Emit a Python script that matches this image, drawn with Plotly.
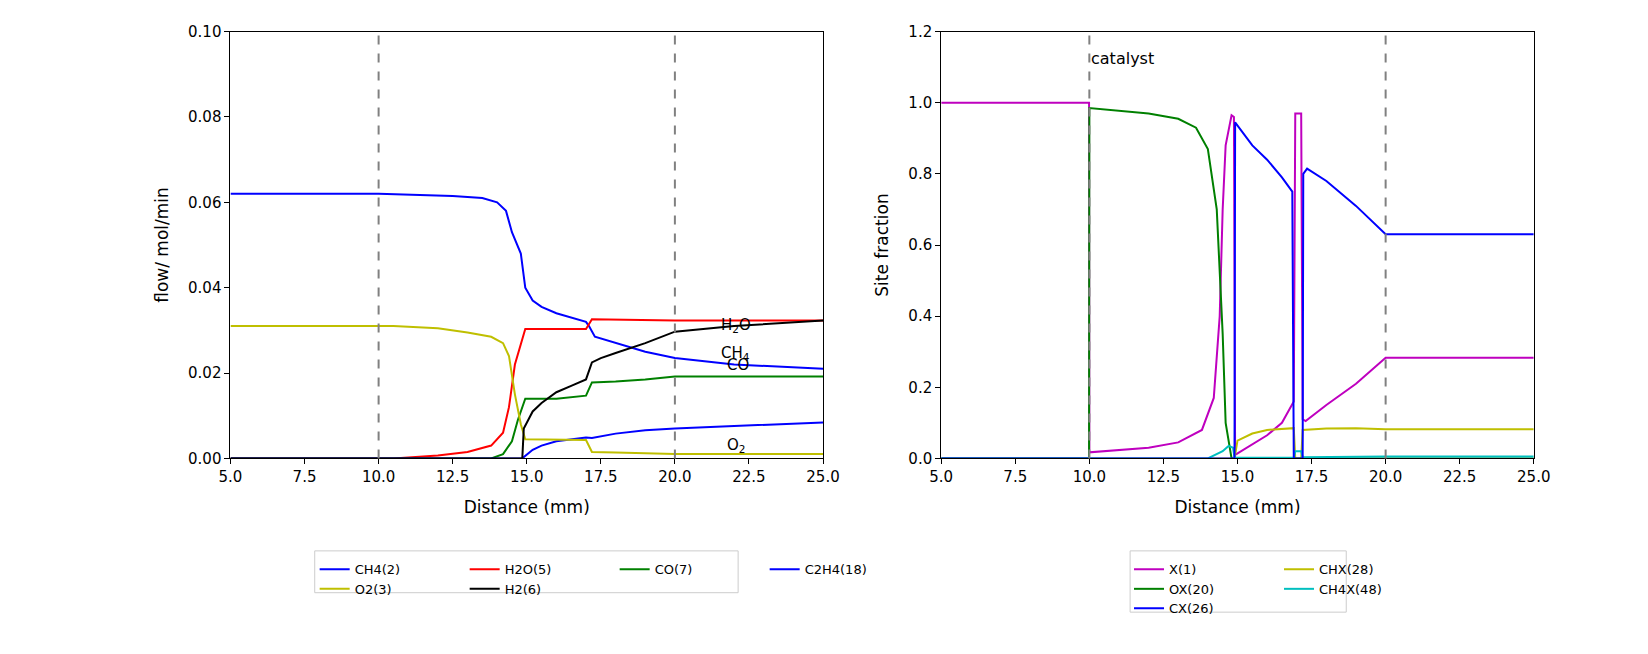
import plotly.graph_objects as go

# ---- left panel data (flow, mol/min) ----
ch4_x = [5, 10, 12.5, 13.5, 14, 14.3, 14.5, 14.8, 14.95, 15.2, 15.5, 16, 17, 17.1, 17.3, 18, 19, 20, 22, 25]
ch4_y = [0.062, 0.062, 0.0615, 0.061, 0.060, 0.058, 0.053, 0.048, 0.040, 0.037, 0.0355, 0.034, 0.032, 0.031, 0.0285, 0.027, 0.025, 0.0235, 0.022, 0.021]
o2_x = [5, 10.5, 12, 13, 13.8, 14.2, 14.4, 14.6, 14.8, 14.95, 17, 17.2, 18, 20, 25]
o2_y = [0.031, 0.031, 0.0305, 0.0295, 0.0285, 0.027, 0.024, 0.015, 0.008, 0.0045, 0.0043, 0.0015, 0.0014, 0.001, 0.001]
h2o_x = [5, 10.5, 12, 13, 13.8, 14.2, 14.4, 14.6, 14.95, 17, 17.2, 20, 25]
h2o_y = [0, 0, 0.0007, 0.0015, 0.003, 0.006, 0.012, 0.022, 0.0303, 0.0303, 0.0326, 0.0323, 0.0323]
h2_x = [5, 14.85, 14.9, 15.2, 15.5, 16, 16.5, 17, 17.2, 17.5, 18, 19, 20, 22, 25]
h2_y = [0, 0, 0.007, 0.011, 0.013, 0.0155, 0.017, 0.0185, 0.0225, 0.0235, 0.0247, 0.027, 0.0297, 0.031, 0.0323]
co_x = [5, 13.8, 14.2, 14.5, 14.7, 14.95, 16, 17, 17.2, 18, 19, 20, 25]
co_y = [0, 0, 0.001, 0.004, 0.009, 0.014, 0.014, 0.0147, 0.0178, 0.018, 0.0185, 0.0192, 0.0192]
c2h4_x = [5, 14.85, 15.2, 15.5, 16, 17, 17.2, 18, 19, 20, 22, 25]
c2h4_y = [0, 0, 0.002, 0.003, 0.004, 0.0049, 0.0048, 0.0058, 0.0066, 0.007, 0.0076, 0.0084]

# ---- right panel data (site fraction) ----
x1_x = [5, 9.99, 10, 12, 13, 13.8, 14.2, 14.4, 14.5, 14.6, 14.8, 14.88, 14.92, 15.5, 16, 16.5, 16.9, 16.95, 17.15, 17.2, 17.3, 18, 19, 20, 25]
x1_y = [1.0, 1.0, 0.017, 0.03, 0.045, 0.08, 0.17, 0.4, 0.7, 0.88, 0.965, 0.96, 0.01, 0.04, 0.065, 0.1, 0.16, 0.97, 0.97, 0.11, 0.105, 0.15, 0.21, 0.283, 0.283]
ox_x = [5, 9.99, 10, 11, 12, 13, 13.6, 14, 14.3, 14.5, 14.6, 14.8, 25]
ox_y = [0, 0, 0.985, 0.978, 0.97, 0.955, 0.93, 0.87, 0.7, 0.35, 0.1, 0.0, 0]
cx_x = [5, 14.9, 14.92, 15.5, 16, 16.5, 16.85, 16.9, 17.2, 17.22, 17.35, 18, 19, 20, 25]
cx_y = [0, 0, 0.945, 0.88, 0.84, 0.79, 0.75, 0.0, 0, 0.8, 0.815, 0.78, 0.71, 0.63, 0.63]
chx_x = [5, 14.9, 15.0, 15.5, 16, 16.9, 16.95, 17.15, 17.2, 18, 19, 20, 25]
chx_y = [0, 0, 0.05, 0.07, 0.08, 0.085, 0, 0, 0.08, 0.084, 0.085, 0.082, 0.082]
ch4x_x = [5, 14.0, 14.5, 14.7, 14.85, 14.9, 16.9, 16.95, 17.15, 17.2, 20, 25]
ch4x_y = [0, 0, 0.02, 0.035, 0.03, 0.002, 0.002, 0.02, 0.02, 0.003, 0.005, 0.005]

fig = go.Figure()
def tr(x, y, name, color, xa, ya, leg):
    fig.add_trace(go.Scatter(x=x, y=y, name=name, mode="lines", line=dict(width=2, color=color),
                             xaxis=xa, yaxis=ya, legend=leg))

tr(ch4_x, ch4_y, "CH4(2)", "#0000ff", "x", "y", "legend")
tr(h2o_x, h2o_y, "H2O(5)", "#ff0000", "x", "y", "legend")
tr(co_x, co_y, "CO(7)", "#008000", "x", "y", "legend")
tr(c2h4_x, c2h4_y, "C2H4(18)", "#0000ff", "x", "y", "legend")
tr(o2_x, o2_y, "O2(3)", "#bfbf00", "x", "y", "legend2")
tr(h2_x, h2_y, "H2(6)", "#000000", "x", "y", "legend2")

tr(x1_x, x1_y, "X(1)", "#bf00bf", "x2", "y2", "legend3")
tr(chx_x, chx_y, "CHX(28)", "#bfbf00", "x2", "y2", "legend3")
tr(ox_x, ox_y, "OX(20)", "#008000", "x2", "y2", "legend4")
tr(ch4x_x, ch4x_y, "CH4X(48)", "#00bfbf", "x2", "y2", "legend4")
tr(cx_x, cx_y, "CX(26)", "#0000ff", "x2", "y2", "legend5")

ax = dict(showgrid=False, zeroline=False, showline=True, mirror=True, linecolor="black",
          ticks="outside", tickcolor="black", tickfont=dict(size=15), title_font=dict(size=17))
def leg(x, row):
    return dict(orientation="h", x=x, xanchor="left", y=0.155 - row * 0.0306, yanchor="top",
                entrywidth=105, font=dict(size=13), bgcolor="rgba(0,0,0,0)", itemwidth=30)
fig.update_layout(
    width=1648, height=654, plot_bgcolor="white", paper_bgcolor="white",
    font=dict(family="DejaVu Sans", color="black"),
    margin=dict(l=0, r=0, t=0, b=0),
    xaxis=dict(ax, domain=[0.130, 0.496], range=[5, 25], dtick=2.5, tickformat=".1f", title_text="Distance (mm)"),
    yaxis=dict(ax, domain=[0.306, 0.977], range=[0, 0.1], dtick=0.02, tickformat=".2f", title_text="flow/ mol/min"),
    xaxis2=dict(ax, domain=[0.569, 0.935], range=[5, 25], dtick=2.5, tickformat=".1f", title_text="Distance (mm)", anchor="y2"),
    yaxis2=dict(ax, domain=[0.306, 0.977], range=[0, 1.2], dtick=0.2, tickformat=".1f", title_text="Site fraction", anchor="x2"),
    legend=leg(0.182, 0), legend2=leg(0.182, 1),
    legend3=leg(0.685, 0), legend4=leg(0.685, 1), legend5=leg(0.685, 2),
)
fig.add_shape(type="rect", xref="paper", yref="paper", x0=300/1648, x1=731/1648, y0=1-592/654, y1=1-549/654,
              line=dict(color="#cccccc", width=1))
fig.add_shape(type="rect", xref="paper", yref="paper", x0=1130/1648, x1=1350/1648, y0=1-612/654, y1=1-549/654,
              line=dict(color="#cccccc", width=1))
for xv in [10, 20]:
    for xr, yr in [("x", "y"), ("x2", "y2")]:
        fig.add_shape(type="line", xref=xr, yref=yr + " domain", x0=xv, x1=xv, y0=0, y1=1,
                      line=dict(color="gray", width=2, dash="dash"))
for t, xv, yv in [("H<sub>2</sub>O", 21.5, 0.0312), ("CH<sub>4</sub>", 21.5, 0.0245), ("CO", 21.7, 0.0218), ("O<sub>2</sub>", 21.7, 0.003)]:
    fig.add_annotation(x=xv, y=yv, xref="x", yref="y", text=t, showarrow=False, xanchor="left", font=dict(size=15))
fig.add_annotation(x=10, y=1.125, xref="x2", yref="y2", text="catalyst", showarrow=False, xanchor="left", font=dict(size=16))
fig.write_html("out.html")
